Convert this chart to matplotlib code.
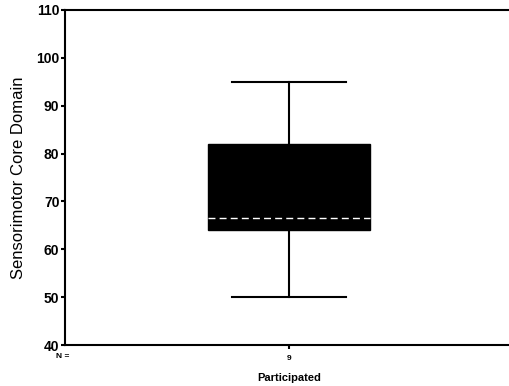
import matplotlib
matplotlib.use("Agg")
import matplotlib.pyplot as plt

plt.rcParams['font.family'] = ['Liberation Sans', 'DejaVu Sans']

# box summary
group = 'Participated'
n_cases = 9
q1, median, q3 = 64.0, 66.5, 82.0
whisker_low, whisker_high = 50.0, 95.0

fig = plt.figure(figsize=(5.09, 3.86), dpi=100)
ax = fig.add_axes([0.1277, 0.1062, 0.88, 0.868])

stats = [dict(med=median, q1=q1, q3=q3, whislo=whisker_low, whishi=whisker_high,
              fliers=[], label='')]
ax.bxp(stats, positions=[1], widths=0.72, patch_artist=True, showfliers=False,
       boxprops=dict(facecolor='black', edgecolor='black', linewidth=1),
       medianprops=dict(color='white', linewidth=1, linestyle=(0, (5, 3))),
       whiskerprops=dict(color='black', linewidth=1.5),
       capprops=dict(color='black', linewidth=1.5),
       capwidths=0.51)

ax.set_xlim(0, 2)
ax.set_ylim(40, 110)
ax.set_yticks(range(40, 111, 10))
ax.set_xticks([1])
ax.set_xticklabels([str(n_cases)], fontsize=6, fontweight='bold')
ax.tick_params(axis='x', length=3, width=1.5, pad=4)
ax.tick_params(axis='y', length=3, width=1.5, pad=1, labelsize=10)
for lab in ax.get_yticklabels():
    lab.set_fontweight('bold')

for side in ['left', 'top', 'bottom']:
    ax.spines[side].set_linewidth(1.5)
ax.spines['right'].set_visible(False)

ax.set_ylabel('Sensorimotor Core Domain', fontsize=12, labelpad=7)
ax.set_xlabel(group, fontsize=8, fontweight='bold', labelpad=8)
fig.text(56 / 509, 1 - 357 / 386, 'N =', fontsize=6, fontweight='bold', ha='left', va='center')

fig.savefig('out.png', dpi=100)
